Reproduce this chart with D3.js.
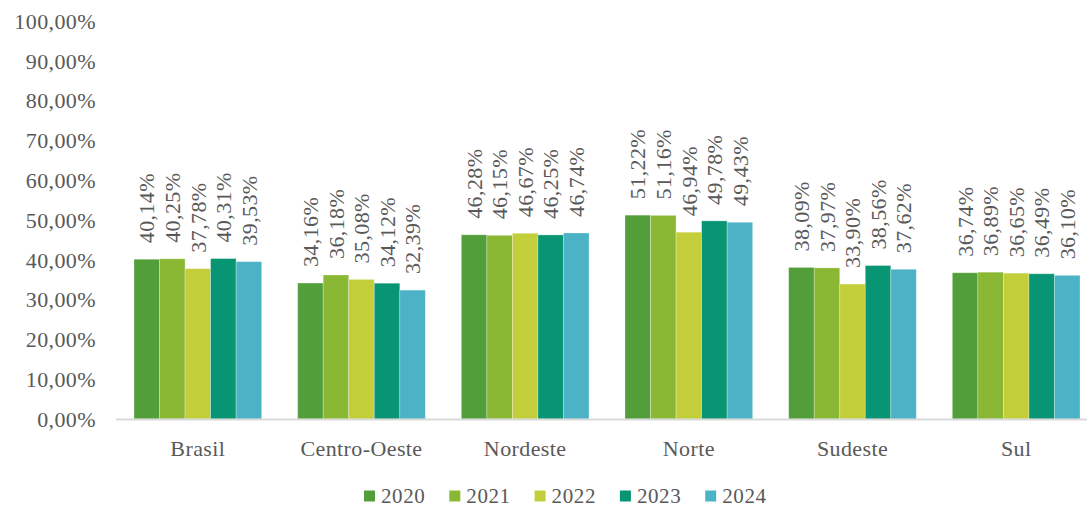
<!DOCTYPE html>
<html>
<head>
<meta charset="utf-8">
<script src="https://cdn.jsdelivr.net/npm/d3@7"></script>
<style>
  body { margin: 0; background: #fff; }
</style>
</head>
<body>
<script>
// Data {{{1
const regions = ["Brasil", "Centro-Oeste", "Nordeste", "Norte", "Sudeste", "Sul"];
const years = ["2020", "2021", "2022", "2023", "2024"];
const colors = ["#529e3b", "#8ab734", "#c3cf3a", "#089573", "#4bb3c5"];
const values2020 = [40.14, 34.16, 46.28, 51.22, 38.09, 36.74];
const values2021 = [40.25, 36.18, 46.15, 51.16, 37.97, 36.89];
const values2022 = [37.78, 35.08, 46.67, 46.94, 33.90, 36.65];
const values2023 = [40.31, 34.12, 46.25, 49.78, 38.56, 36.49];
const values2024 = [39.53, 32.39, 46.74, 49.43, 37.62, 36.10];
const yTicks = [0, 10, 20, 30, 40, 50, 60, 70, 80, 90, 100];

// Main {{{1
const width = 1087, height = 509;
const series = [values2020, values2021, values2022, values2023, values2024];
const rows = regions.map((r, i) => ({
    region: r,
    values: years.map((y, j) => ({ year: y, value: series[j][i], color: colors[j] }))
}));

const fmt = (v) => v.toFixed(2).replace(".", ",") + "%";

const svg = d3.select("body").append("svg")
    .attr("width", width)
    .attr("height", height)
    .attr("font-family", "'Liberation Serif', 'Times New Roman', Times, serif")
    .attr("fill", "#595959");

const x0 = d3.scaleBand().domain(regions).range([116, 1098]).paddingInner(0.22).paddingOuter(0.11);
const x1 = d3.scaleBand().domain(years).range([0, x0.bandwidth()]);
const y = d3.scaleLinear().domain([0, 100]).range([419, 21]);

// y tick labels (no axis line, no gridlines)
svg.append("g")
    .selectAll("text")
    .data(yTicks)
    .join("text")
    .attr("x", 96)
    .attr("y", (d) => y(d))
    .attr("dy", "0.35em")
    .attr("text-anchor", "end")
    .attr("font-size", 22)
    .attr("letter-spacing", 0.4)
    .text((d) => d.toFixed(2).replace(".", ",") + "%");

// bars
const groups = svg.append("g")
    .selectAll("g")
    .data(rows)
    .join("g")
    .attr("transform", (d) => "translate(" + x0(d.region) + ",0)");

groups.selectAll("rect")
    .data((d) => d.values)
    .join("rect")
    .attr("x", (d) => x1(d.year))
    .attr("y", (d) => y(d.value))
    .attr("width", x1.bandwidth())
    .attr("height", (d) => y(0) - y(d.value))
    .attr("fill", (d) => d.color)
    .attr("stroke", "#ffffff")
    .attr("stroke-opacity", 0.35)
    .attr("stroke-width", 0.8);

// value labels, rotated
groups.selectAll("text")
    .data((d) => d.values)
    .join("text")
    .attr("transform", (d) => "translate(" + (x1(d.year) + x1.bandwidth() / 2) + "," + (y(d.value) - 16) + ") rotate(-90)")
    .attr("dy", "0.35em")
    .attr("font-size", 22)
    .attr("letter-spacing", 0.4)
    .text((d) => fmt(d.value));

// x axis line
svg.append("line")
    .attr("x1", 116).attr("x2", 1098)
    .attr("y1", y(0) + 0.5).attr("y2", y(0) + 0.5)
    .attr("stroke", "#d9d9d9")
    .attr("stroke-width", 2);

// category labels
svg.append("g")
    .selectAll("text")
    .data(regions)
    .join("text")
    .attr("x", (d) => x0(d) + x0.bandwidth() / 2)
    .attr("y", 448)
    .attr("dy", "0.35em")
    .attr("text-anchor", "middle")
    .attr("font-size", 22)
    .attr("letter-spacing", 0.4)
    .text((d) => d);

// legend
const legend = svg.append("g")
    .selectAll("g")
    .data(years)
    .join("g")
    .attr("transform", (d, i) => "translate(" + (364 + i * 85.3) + ",496)");
legend.append("rect")
    .attr("x", 0).attr("y", -5.5)
    .attr("width", 11).attr("height", 11)
    .attr("fill", (d, i) => colors[i]);
legend.append("text")
    .attr("x", 17)
    .attr("dy", "0.35em")
    .attr("font-size", 21)
    .attr("letter-spacing", 0.6)
    .text((d) => d);
</script>
</body>
</html>
